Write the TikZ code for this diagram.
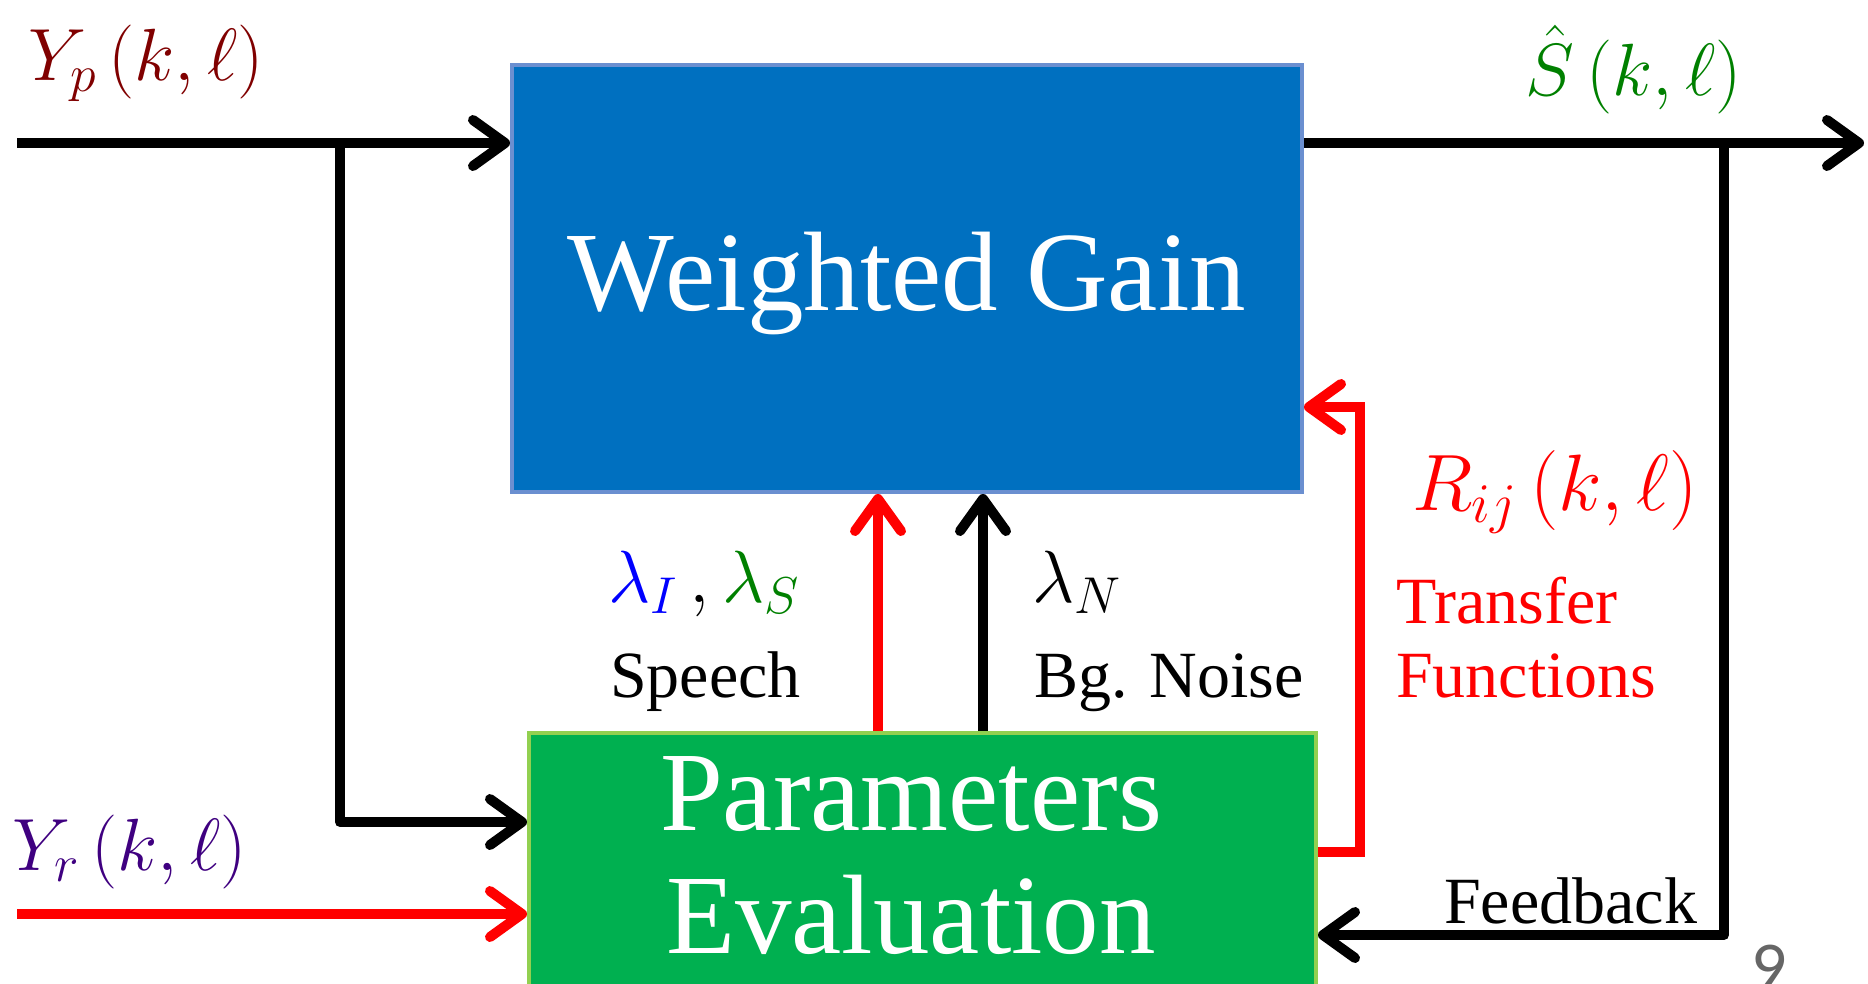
\RequirePackage{fix-cm}
\documentclass[tikz,border=0pt]{standalone}
\usepackage{fontspec}
\setmainfont{Liberation Serif}
\newfontfamily\pagefont{Carlito}
\usetikzlibrary{arrows.meta}
\definecolor{wgblue}{HTML}{0070C0}
\definecolor{wgedge}{HTML}{6B8FD0}
\definecolor{pegreen}{HTML}{00B050}
\definecolor{peedge}{HTML}{92D050}
\definecolor{ypcol}{HTML}{800000}
\definecolor{shcol}{HTML}{008000}
\definecolor{yrcol}{HTML}{3F0080}
\definecolor{pagegray}{HTML}{666666}
\begin{document}
\begin{tikzpicture}[x=1pt,y=-1pt,
  wire/.style={line width=10pt, line join=round},
  arr/.style={wire, -{Straight Barb[length=32pt,width=46pt,line cap=round,line join=round]}},
  bigbox/.style={draw, line width=4pt, inner sep=0pt},
  bigtext/.style={text=white, font=\fontsize{113}{123}\selectfont, align=center},
  mathlbl/.style={anchor=base west, inner sep=0pt, font=\fontsize{74}{80}\selectfont},
  smalltext/.style={anchor=base west, inner sep=0pt, font=\fontsize{66}{76}\selectfont, align=left}
]
\useasboundingbox (0,0) rectangle (1868,983);
\clip (0,0) rectangle (1868,983);

% boxes
\node[bigbox, draw=wgedge, fill=wgblue, minimum width=790pt, minimum height=427pt] (wg) at (907,278.5) {};
\node[bigtext, anchor=base] (wgt) at (907,310) {Weighted Gain};
\node[bigbox, draw=peedge, fill=pegreen, minimum width=787pt, minimum height=280pt] (pe) at (922.5,873) {};
\node[bigtext, anchor=base] (pet1) at (911,830) {Parameters};
\node[bigtext, anchor=base] (pet2) at (911,953) {Evaluation};

% coordinates
\coordinate (ypin) at (17,143);
\coordinate (ypbr) at (340,143);
\coordinate (ypdn) at (340,822);
\coordinate (yrin) at (17,914);
\coordinate (sout) at (1864,143);
\coordinate (sbr) at (1724,143);
\coordinate (sdn) at (1724,935);
\coordinate (rc1) at (1360,852);
\coordinate (rc2) at (1360,407);
\coordinate (redx) at (878,0);
\coordinate (blkx) at (983,0);

% input Yp
\draw[arr] (ypin) -- (wg.west |- ypin);
\draw[arr] (ypbr) -- (ypdn) -- (pe.west |- ypdn);
% input Yr
\draw[arr, red] (yrin) -- (pe.west |- yrin);
% output
\draw[arr] (wg.east |- sout) -- (sout);
\draw[arr] (sbr) -- (sdn) -- (pe.east |- sdn);
% parameter arrows
\draw[arr, red] (pe.north -| redx) -- (wg.south -| redx);
\draw[arr] (pe.north -| blkx) -- (wg.south -| blkx);
% transfer functions
\draw[arr, red, line join=miter] (pe.east |- rc1) -- (rc1) -- (rc2) -- (wg.east |- rc2);

% labels
\node[mathlbl, text=ypcol] (yp) at (28,80) {$Y_p\,\bigl(k,\ell\bigr)$};
\node[mathlbl, text=shcol] (sh) at (1525,95) {$\hat{S}\,\bigl(k,\ell\bigr)$};
\node[mathlbl, text=yrcol] (yr) at (12,870) {$Y_r\,\bigl(k,\ell\bigr)$};
\node[mathlbl, text=red, font=\fontsize{80}{86}\selectfont] (rij) at (1412,510) {$R_{ij}\,\bigl(k,\ell\bigr)$};
\node[mathlbl] (lis) at (608,602) {$\color{blue}\lambda_I\,\color{black},\color{shcol}\lambda_S$};
\node[mathlbl] (ln) at (1032,602) {$\lambda_N$};

\node[smalltext] (sp) at (610,697) {Speech};
\node[smalltext] (bg) at (1034,697) {Bg. Noise};
\node[smalltext, text=red] (tf1) at (1396,623) {Transfer};
\node[smalltext, text=red] (tf2) at (1396,697) {Functions};
\node[smalltext] (fb) at (1444,923) {Feedback};
\node[anchor=base west, inner sep=0pt, text=pagegray, font=\pagefont\fontsize{70}{76}\selectfont] (pg) at (1751,990) {9};
\end{tikzpicture}
\end{document}
